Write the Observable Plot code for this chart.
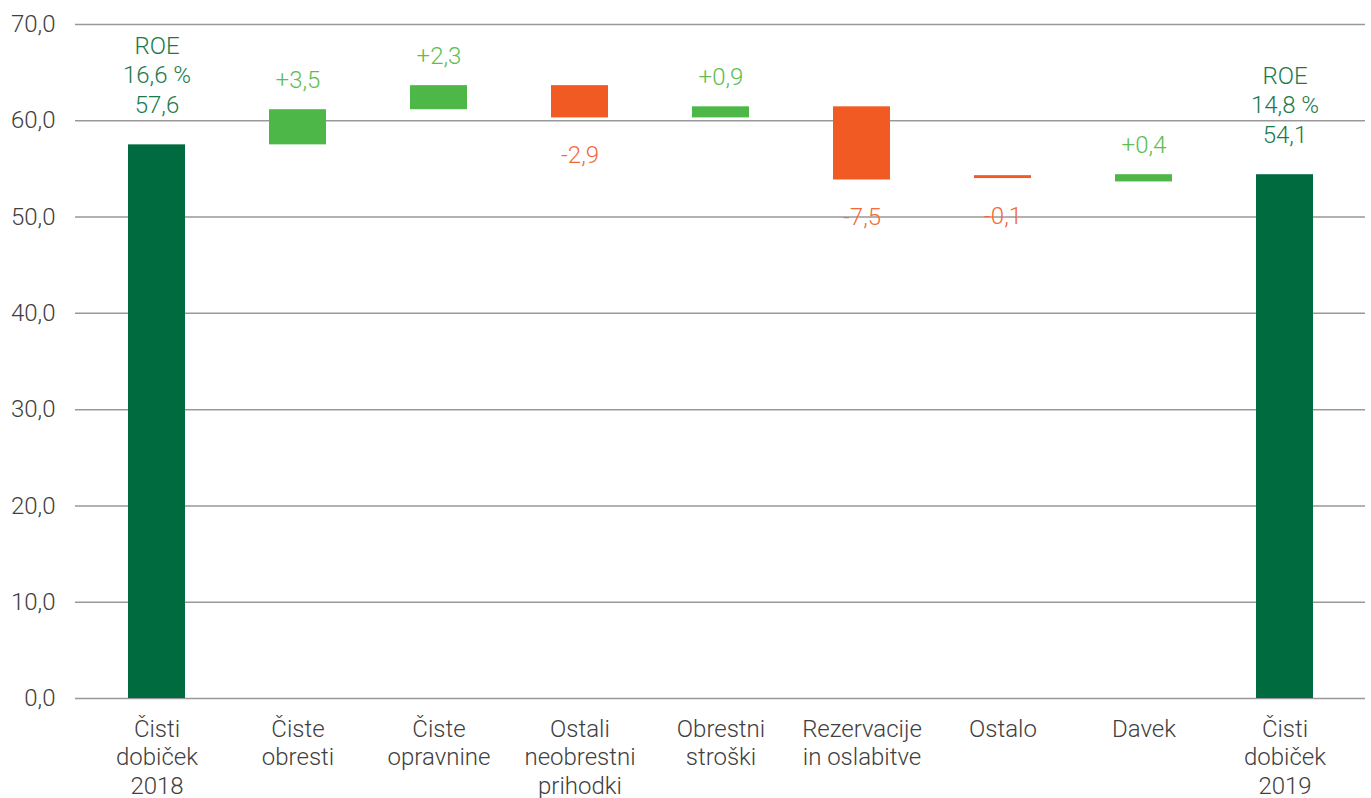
<!DOCTYPE html>
<html>
<head>
<meta charset="utf-8">
<script src="https://cdn.jsdelivr.net/npm/d3@7"></script>
<script src="https://cdn.jsdelivr.net/npm/@observablehq/plot@0.6"></script>
<style>
  html, body { margin: 0; padding: 0; background: #fff; }
  #chart { width: 1371px; height: 798px; }
</style>
</head>
<body>
<div id="chart"></div>
<script>
const categories = ["Čisti\ndobiček\n2018", "Čiste\nobresti", "Čiste\nopravnine", "Ostali\nneobrestni\nprihodki", "Obrestni\nstroški", "Rezervacije\nin oslabitve", "Ostalo", "Davek", "Čisti\ndobiček\n2019"];
const kinds = ["total", "pos", "pos", "neg", "pos", "neg", "neg", "pos", "total"];
const barLow  = [0,    57.5,  61.15, 60.3,  60.3,  53.85, 54.0, 53.65, 0];
const barHigh = [57.5, 61.15, 63.65, 63.65, 61.45, 61.45, 54.3, 54.4,  54.4];
const valueLabels = ["ROE\n16,6 %\n57,6", "+3,5", "+2,3", "-2,9", "+0,9", "-7,5", "-0,1", "+0,4", "ROE\n14,8 %\n54,1"];
const yTicks = [0, 10, 20, 30, 40, 50, 60, 70];

const rows = categories.map((c, i) => ({cat: c, kind: kinds[i], low: barLow[i], high: barHigh[i], label: valueLabels[i]}));

const barColors = {total: "#006b3f", pos: "#4db848", neg: "#f15a22"};
const textColors = {total: "#1b7a4c", pos: "#5cbd50", neg: "#f26a3a"};

const chart = Plot.plot({
  width: 1371,
  height: 798,
  marginTop: 24,
  marginBottom: 100,
  marginLeft: 75,
  marginRight: 6,
  style: {fontFamily: "Roboto, sans-serif", fontSize: "24px", fontWeight: 300, background: "#fff"},
  x: {domain: categories, paddingInner: 0.597, paddingOuter: 0.36, label: null},
  y: {domain: [0, 70], label: null},
  marks: [
    Plot.ruleY(yTicks, {stroke: "#999", strokeWidth: 1.5}),
    Plot.barY(rows, {x: "cat", y1: "low", y2: "high", fill: d => barColors[d.kind]}),
    Plot.text(rows.filter(d => d.kind === "total"), {
      x: "cat", y: "high", text: "label", lineAnchor: "bottom", lineHeight: 1.23,
      fill: textColors.total, fontSize: 24, fontWeight: 300, dy: -32
    }),
    Plot.text(rows.filter(d => d.kind === "pos"), {
      x: "cat", y: "high", text: "label", lineAnchor: "bottom",
      fill: textColors.pos, fontSize: 24, fontWeight: 300, dy: -22
    }),
    Plot.text(rows.filter(d => d.kind === "neg"), {
      x: "cat", y: "low", text: "label", lineAnchor: "bottom",
      fill: textColors.neg, fontSize: 24, fontWeight: 300, dy: 45
    }),
    Plot.axisY({ticks: yTicks, tickSize: 0, tickPadding: 20, tickFormat: d => d.toFixed(1).replace(".", ","), color: "#404040", fontSize: 24, fontWeight: 300}),
    Plot.axisX({tickSize: 0, tickPadding: 18, lineHeight: 1.19, color: "#404040", fontSize: 24, fontWeight: 300})
  ]
});
document.getElementById("chart").appendChild(chart);
</script>
</body>
</html>
